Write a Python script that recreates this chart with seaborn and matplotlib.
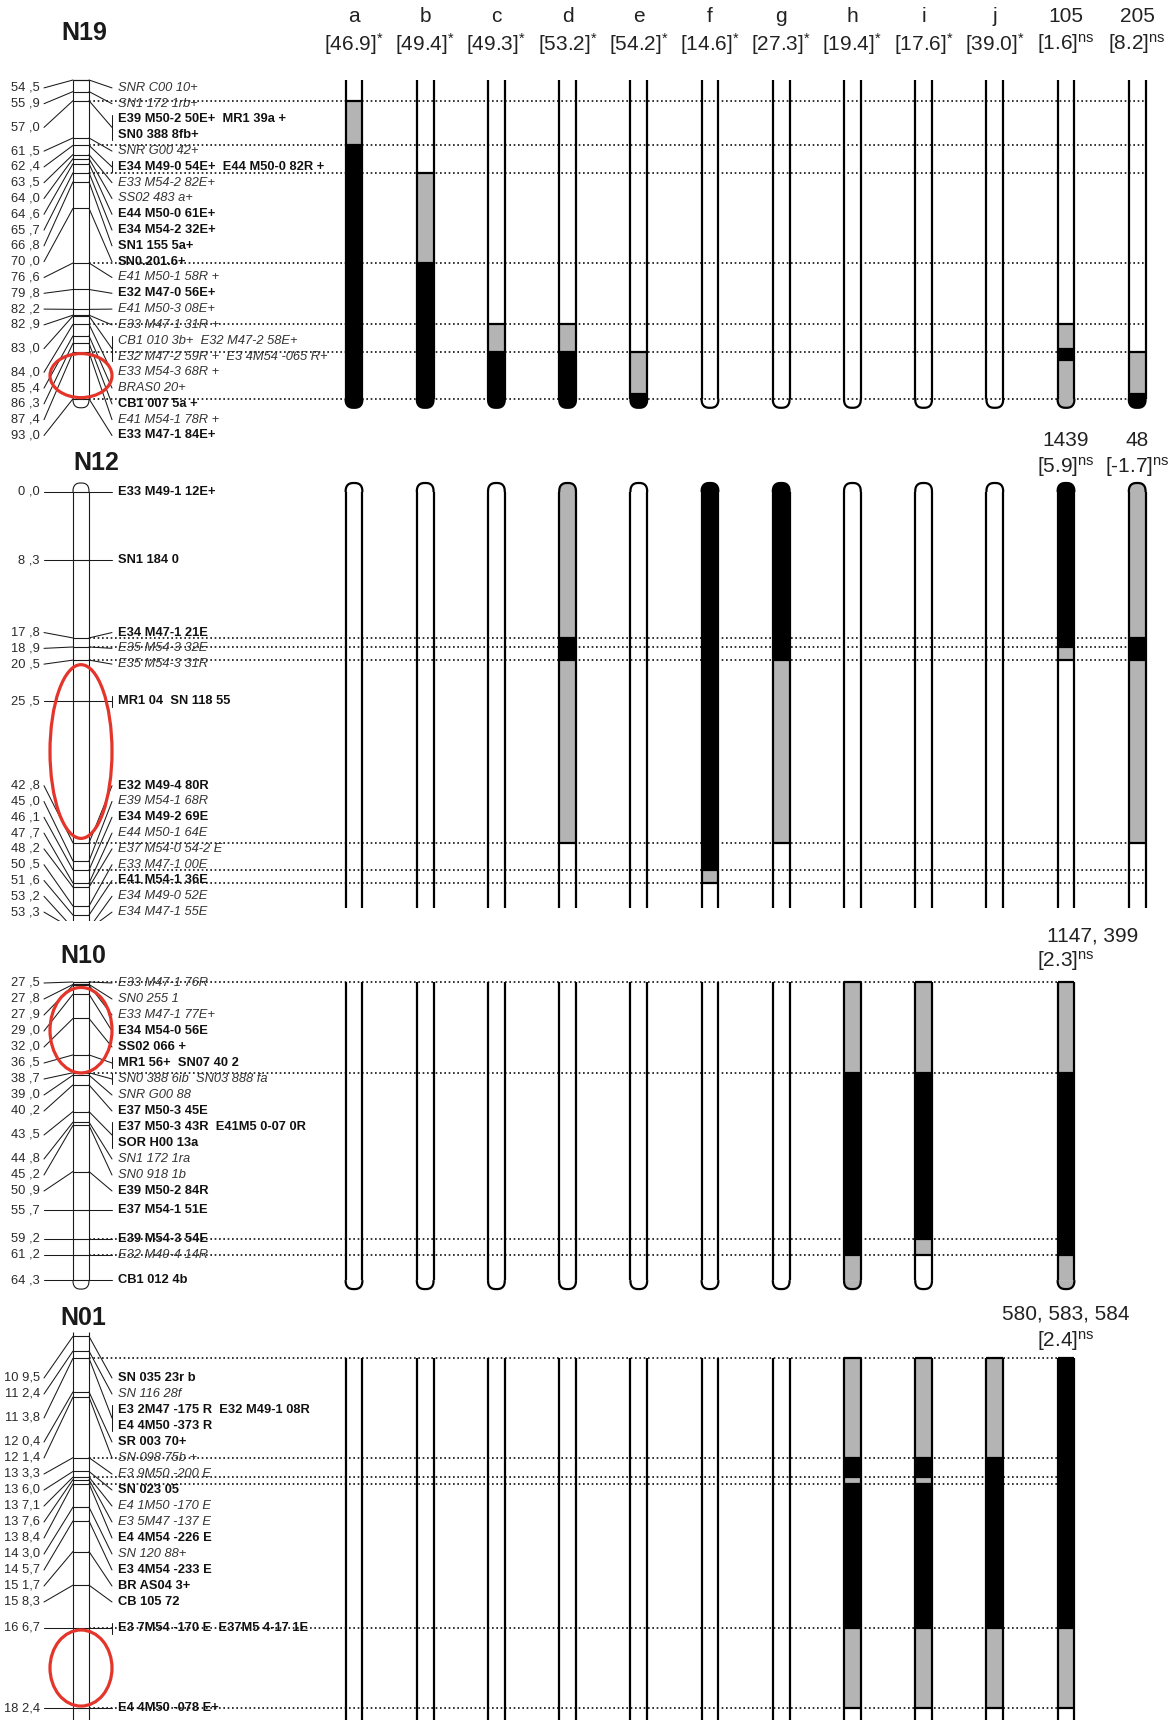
import numpy as np
import pandas as pd
import matplotlib
matplotlib.use("Agg")
import matplotlib.pyplot as plt
import seaborn as sns
from matplotlib import transforms
from matplotlib.patches import Ellipse, Polygon

# ------------------------------------------------------------------ data
trait_names = ["a", "b", "c", "d", "e", "f", "g", "h", "i", "j", "105", "205"]
trait_values = [46.9, 49.4, 49.3, 53.2, 54.2, 14.6, 27.3, 19.4, 17.6, 39.0, 1.6, 8.2]
trait_sig = ["*"] * 10 + ["ns", "ns"]

n12_extra_names = ["1439", "48"]
n12_extra_values = [5.9, -1.7]
n12_extra_sig = ["ns", "ns"]
n10_extra_names = ["1147, 399"]
n10_extra_values = [2.3]
n10_extra_sig = ["ns"]
n01_extra_names = ["580, 583, 584"]
n01_extra_values = [2.4]
n01_extra_sig = ["ns"]

# ---- N19
n19_cm = [54.5, 55.9, 57.0, 61.5, 62.4, 63.5, 64.0, 64.6, 65.7, 66.8, 70.0,
          76.6, 79.8, 82.2, 82.9, 83.0, 84.0, 85.4, 86.3, 87.4, 93.0]
n19_markers = ["SNR C00 10+", "SN1 172 1rb+", "E39 M50-2 50E+  MR1 39a +\nSN0 388 8fb+",
               "SNR G00 42+", "E34 M49-0 54E+  E44 M50-0 82R +", "E33 M54-2 82E+",
               "SS02 483 a+", "E44 M50-0 61E+", "E34 M54-2 32E+", "SN1 155 5a+",
               "SN0.201.6+", "E41 M50-1 58R +", "E32 M47-0 56E+", "E41 M50-3 08E+",
               "E33 M47-1 31R +", "CB1 010 3b+  E32 M47-2 58E+\nE32 M47-2 59R +  E3 4M54 -065 R+",
               "E33 M54-3 68R +", "BRAS0 20+", "CB1 007 5a +", "E41 M54-1 78R +",
               "E33 M47-1 84E+"]
n19_bold = [0, 0, 1, 0, 1, 0, 0, 1, 1, 1, 1, 0, 1, 0, 0, 0, 0, 0, 1, 0, 1]
n19_tick = [0, 0, 1, 0, 1, 0, 0, 0, 0, 0, 0, 0, 0, 0, 0, 1, 0, 0, 0, 0, 0]
n19_chrom = (54.5, 93.0)
n19_dotted = [57.0, 62.4, 65.7, 76.6, 84.0, 87.4, 93.0]
n19_highlight = (87.4, 93.0)
n19_bar_cols = list(range(12))
n19_bar_breaks = [[54.5, 57.0, 62.4], [54.5, 65.7, 76.6], [54.5, 84.0, 87.4], [54.5, 84.0, 87.4],
                  [54.5, 87.4, 92.4], [54.5], [54.5], [54.5], [54.5], [54.5],
                  [54.5, 84.0, 87.0, 88.3], [54.5, 87.4, 92.4]]
n19_bar_fills = [["w", "g", "k"], ["w", "g", "k"], ["w", "g", "k"], ["w", "g", "k"],
                 ["w", "g", "k"], ["w"], ["w"], ["w"], ["w"], ["w"],
                 ["w", "g", "k", "g"], ["w", "g", "k"]]
n19_bar_end = 93.0

# ---- N12
n12_cm = [0.0, 8.3, 17.8, 18.9, 20.5, 25.5, 42.8, 45.0, 46.1, 47.7, 48.2, 50.5, 51.6, 53.2, 53.3]
n12_markers = ["E33 M49-1 12E+", "SN1 184 0", "E34 M47-1 21E", "E35 M54-3 32E", "E35 M54-3 31R",
               "MR1 04  SN 118 55", "E32 M49-4 80R", "E39 M54-1 68R", "E34 M49-2 69E",
               "E44 M50-1 64E", "E37 M54-0 54-2 E", "E33 M47-1 00E", "E41 M54-1 36E",
               "E34 M49-0 52E", "E34 M47-1 55E"]
n12_bold = [1, 1, 1, 0, 0, 1, 1, 0, 1, 0, 0, 0, 1, 0, 0]
n12_tick = [0, 0, 0, 0, 0, 1, 0, 0, 0, 0, 0, 0, 0, 0, 0]
n12_chrom = (0.0, None)
n12_dotted = [17.8, 18.9, 20.5, 42.8, 46.1, 47.7]
n12_highlight = (20.5, 42.8)
n12_bar_cols = list(range(12))
n12_bar_breaks = [[0.0], [0.0], [0.0], [0.0, 17.8, 20.5, 42.8], [0.0], [0.0, 46.1, 47.7],
                  [0.0, 20.5, 42.8], [0.0], [0.0], [0.0], [0.0, 18.9, 20.5], [0.0, 17.8, 20.5, 42.8]]
n12_bar_fills = [["w"], ["w"], ["w"], ["g", "k", "g", "w"], ["w"], ["k", "g", "w"],
                 ["k", "g", "w"], ["w"], ["w"], ["w"], ["k", "g", "w"], ["g", "k", "g", "w"]]
n12_bar_end = 50.7

# ---- N10
n10_cm = [27.5, 27.8, 27.9, 29.0, 32.0, 36.5, 38.7, 39.0, 40.2, 43.5, 44.8, 45.2,
          50.9, 55.7, 59.2, 61.2, 64.3]
n10_markers = ["E33 M47-1 76R", "SN0 255 1", "E33 M47-1 77E+", "E34 M54-0 56E", "SS02 066 +",
               "MR1 56+  SN07 40 2", "SN0 388 6ib  SN03 888 fa", "SNR G00 88", "E37 M50-3 45E",
               "E37 M50-3 43R  E41M5 0-07 0R\nSOR H00 13a", "SN1 172 1ra", "SN0 918 1b",
               "E39 M50-2 84R", "E37 M54-1 51E", "E39 M54-3 54E", "E32 M49-4 14R", "CB1 012 4b"]
n10_bold = [0, 0, 0, 1, 1, 1, 0, 0, 1, 1, 0, 0, 1, 1, 1, 0, 1]
n10_tick = [0, 0, 0, 0, 0, 1, 1, 0, 0, 1, 0, 0, 0, 0, 0, 0, 0]
n10_chrom = (27.5, 64.3)
n10_dotted = [27.5, 38.7, 59.2, 61.2]
n10_highlight = (27.9, 39.0)
n10_bar_cols = [0, 1, 2, 3, 4, 5, 6, 7, 8, 10]
n10_bar_breaks = [[27.5]] * 7 + [[27.5, 38.7, 61.2], [27.5, 38.7, 59.2, 61.2], [27.5, 38.7, 61.2]]
n10_bar_fills = [["w"]] * 7 + [["g", "k", "g"], ["g", "k", "g", "w"], ["g", "k", "g"]]
n10_bar_end = 64.3

# ---- N01
n01_cm = [109.5, 112.4, 113.8, 120.4, 121.4, 133.3, 136.0, 137.1, 137.6, 138.4,
          143.0, 145.7, 151.7, 158.3, 166.7, 182.4]
n01_markers = ["SN 035 23r b", "SN 116 28f", "E3 2M47 -175 R  E32 M49-1 08R\nE4 4M50 -373 R",
               "SR 003 70+", "SN 098 75b +", "E3 9M50 -200 E", "SN 023 05", "E4 1M50 -170 E",
               "E3 5M47 -137 E", "E4 4M54 -226 E", "SN 120 88+", "E3 4M54 -233 E",
               "BR AS04 3+", "CB 105 72", "E3 7M54 -170 E  E37M5 4-17 1E", "E4 4M50 -078 E+"]
n01_bold = [1, 0, 1, 1, 0, 0, 1, 0, 0, 1, 0, 1, 1, 1, 1, 1]
n01_tick = [0, 0, 1, 0, 0, 0, 0, 0, 0, 0, 0, 0, 0, 0, 1, 0]
n01_chrom = (108.6, None)
n01_dotted = [113.8, 133.3, 137.1, 138.4, 166.7, 182.4]
n01_highlight = (166.7, 182.4)
n01_bar_cols = [0, 1, 2, 3, 4, 5, 6, 7, 8, 9, 10]
n01_bar_breaks = [[113.8]] * 7 + [[113.8, 133.3, 137.1, 138.4, 166.7, 182.4],
                                  [113.8, 133.3, 137.1, 138.4, 166.7, 182.4],
                                  [113.8, 133.3, 166.7, 182.4], [113.8, 166.7, 182.4]]
n01_bar_fills = [["w"]] * 7 + [["g", "k", "g", "k", "g", "w"], ["g", "k", "g", "k", "g", "w"],
                               ["g", "k", "g", "w"], ["k", "g", "w"]]
n01_bar_end = None

# ------------------------------------------------------------------ style
sns.set_theme(style="white")
plt.rcParams["font.family"] = ["Liberation Sans", "DejaVu Sans"]
plt.rcParams["mathtext.fontset"] = "custom"
plt.rcParams["mathtext.rm"] = "Liberation Sans"
plt.rcParams["mathtext.it"] = "Liberation Sans:italic"
plt.rcParams["mathtext.bf"] = "Liberation Sans:bold"

W, H = 1174, 1720
COL0_PX, COL_STEP_PX = 354.0, 71.2
BAR_W = 0.235
CHR_L, CHR_R = 73.0, 89.0
NUM_X, LEAD_L, LEAD_R, LABEL_X = 40.0, 44.0, 112.0, 118.0
FILL = {"w": None, "g": "#b4b4b4", "k": "#000000"}
RED = "#e4352b"
FS_LAB = 9.3
FS_HEAD = 15

fig = plt.figure(figsize=(W / 100, H / 100), dpi=100)
fig.patch.set_facecolor("white")


def cap_xy(cx, hw, y0, h, direction, n=2.6):
    t = np.linspace(0, np.pi, 60)
    c, s = np.cos(t), np.sin(t)
    return cx + hw * np.sign(c) * np.abs(c) ** (2 / n), y0 + direction * h * np.abs(s) ** (2 / n)


def spread(targets, heights, lo, hi):
    def place(idx):
        hc = sum(heights[i] for i in idx)
        off, vals = 0.0, []
        for i in idx:
            vals.append(targets[i] - off - heights[i] / 2)
            off += heights[i]
        top = min(max(float(np.mean(vals)), lo), hi - hc)
        return top, hc

    clusters = []
    for i in range(len(targets)):
        clusters.append([i])
        while len(clusters) > 1:
            t1, _ = place(clusters[-1])
            t0, h0 = place(clusters[-2])
            if t0 + h0 > t1 + 1e-6:
                last = clusters.pop()
                clusters[-1] = clusters[-1] + last
            else:
                break
    centers = [0.0] * len(targets)
    for c in clusters:
        top, _ = place(c)
        off = 0.0
        for i in c:
            centers[i] = top + off + heights[i] / 2
            off += heights[i]
    return centers


def fmt_cm(v):
    s = f"{v:.1f}".replace(".", ",")
    if v >= 100:
        return s[:2] + " " + s[2:]
    return s.replace(",", " ,")


def head_text(value, sig):
    return f"[{value:.1f}]" + r"$^{\mathrm{" + sig + "}}$"


panels = [
    dict(name="N19", title=(84, 33), band=(0, 446), ref=(54.5, 80.0), k=8.28,
         cm=n19_cm, markers=n19_markers, bold=n19_bold, tick=n19_tick, chrom=n19_chrom,
         ctop="flat", cbot="round", dotted=n19_dotted, hl=n19_highlight,
         cols=n19_bar_cols, breaks=n19_bar_breaks, fills=n19_bar_fills, bend=n19_bar_end,
         btop="open", bbot="round", lab=(80, 446), pitch=15.8),
    dict(name="N12", title=(96, 463), band=(446, 921), ref=(0.0, 492.0), k=8.2,
         cm=n12_cm, markers=n12_markers, bold=n12_bold, tick=n12_tick, chrom=n12_chrom,
         ctop="round", cbot="open", dotted=n12_dotted, hl=n12_highlight,
         cols=n12_bar_cols, breaks=n12_bar_breaks, fills=n12_bar_fills, bend=n12_bar_end,
         btop="round", bbot="open", lab=(484, 920), pitch=15.8),
    dict(name="N10", title=(83, 956), band=(921, 1296), ref=(27.5, 982.0), k=8.1,
         cm=n10_cm, markers=n10_markers, bold=n10_bold, tick=n10_tick, chrom=n10_chrom,
         ctop="flat", cbot="round", dotted=n10_dotted, hl=n10_highlight,
         cols=n10_bar_cols, breaks=n10_bar_breaks, fills=n10_bar_fills, bend=n10_bar_end,
         btop="flat", bbot="round", lab=(975, 1296), pitch=16.0),
    dict(name="N01", title=(83, 1318), band=(1296, 1720), ref=(166.7, 1628.0), k=5.1,
         cm=n01_cm, markers=n01_markers, bold=n01_bold, tick=n01_tick, chrom=n01_chrom,
         ctop="open", cbot="open", dotted=n01_dotted, hl=n01_highlight,
         cols=n01_bar_cols, breaks=n01_bar_breaks, fills=n01_bar_fills, bend=n01_bar_end,
         btop="flat", bbot="open", lab=(1370, 1725), pitch=16.0),
]

for P in panels:
    top_px, bot_px = P["band"]
    ref_cm, ref_px = P["ref"]
    k = P["k"]

    def px2cm(p, ref_cm=ref_cm, ref_px=ref_px, k=k):
        return ref_cm + (p - ref_px) / k

    ax = fig.add_axes([0, 1 - bot_px / H, 1, (bot_px - top_px) / H])
    ax.set_xlim(-COL0_PX / COL_STEP_PX, (W - COL0_PX) / COL_STEP_PX)
    ax.set_ylim(px2cm(bot_px), px2cm(top_px))
    ax.axis("off")
    ax.patch.set_alpha(0)
    axis_end = px2cm(bot_px) + 5
    tL = transforms.blended_transform_factory(fig.transFigure, ax.transData)
    cap = 9.0 / k

    # ---- chromosome
    c0, c1 = P["chrom"]
    c1 = axis_end if c1 is None else c1
    xl, xr = CHR_L / W, CHR_R / W
    xm, hw = (xl + xr) / 2, (xr - xl) / 2
    ck = dict(transform=tL, color="#1a1a1a", lw=0.8, zorder=3, solid_capstyle="butt")
    ax.plot([xl, xl], [c0, c1], **ck)
    ax.plot([xr, xr], [c0, c1], **ck)
    if P["ctop"] == "flat":
        ax.plot([xl, xr], [c0, c0], **ck)
    elif P["ctop"] == "round":
        x, y = cap_xy(xm, hw, c0, cap, -1)
        ax.plot(x, y, **ck)
    if P["cbot"] == "round":
        x, y = cap_xy(xm, hw, c1, cap, 1)
        ax.plot(x, y, **ck)
    for c in P["cm"]:
        ax.plot([xl, xr], [c, c], **ck)

    # ---- highlight ellipse
    h0, h1 = P["hl"]
    ax.add_patch(Ellipse(((CHR_L + CHR_R) / 2 / W, (h0 + h1) / 2), 62 / W, (h1 - h0) * 0.95,
                         transform=tL, fill=False, edgecolor=RED, lw=2.3, zorder=6))

    # ---- labels
    lines = [m.split("\n") for m in P["markers"]]
    heights = [len(l) * P["pitch"] for l in lines]
    targets = [ref_px + (c - ref_cm) * k for c in P["cm"]]
    centers = spread(targets, heights, P["lab"][0], P["lab"][1])
    lk = dict(transform=tL, color="#1a1a1a", lw=0.75, zorder=3)
    for c, ls, yc, b, tk in zip(P["cm"], lines, centers, P["bold"], P["tick"]):
        ycm = px2cm(yc)
        ax.text(NUM_X / W, ycm, fmt_cm(c), transform=tL, ha="right", va="center",
                fontsize=FS_LAB, color="#2a2a2a", clip_on=True)
        ax.plot([LEAD_L / W, CHR_L / W], [ycm, c], **lk)
        ax.plot([CHR_R / W, LEAD_R / W], [c, ycm], **lk)
        n = len(ls)
        if n > 1:
            ax.plot([LEAD_R / W] * 2, [px2cm(yc - n * P["pitch"] / 2 + 3),
                                       px2cm(yc + n * P["pitch"] / 2 - 3)], **lk)
        elif tk:
            ax.plot([LEAD_R / W] * 2, [px2cm(yc - 5.5), px2cm(yc + 5.5)], **lk)
        for j, line in enumerate(ls):
            ly = yc + (j - (n - 1) / 2) * P["pitch"]
            ax.text(LABEL_X / W, px2cm(ly), line, transform=tL, ha="left", va="center",
                    fontsize=FS_LAB, fontweight="bold" if b else "normal",
                    fontstyle="normal" if b else "italic",
                    color="#111111" if b else "#333333", clip_on=True, zorder=4)

    # ---- dotted connection lines
    last_col = max(P["cols"])
    x_start = (CHR_R - COL0_PX) / COL_STEP_PX
    for d in P["dotted"]:
        ax.plot([x_start, last_col + BAR_W / 2], [d, d], color="#111111", lw=1.2,
                linestyle=(0, (1, 1.6)), zorder=1.5)

    # ---- bars (segments table)
    rows = []
    bend = axis_end if P["bend"] is None else P["bend"]
    for col, brk, fl in zip(P["cols"], P["breaks"], P["fills"]):
        ends = brk[1:] + [bend]
        for s, e, f in zip(brk, ends, fl):
            rows.append(dict(col=col, start=s, end=e, fill=f))
    seg = pd.DataFrame(rows)
    filled = seg[seg["fill"] != "w"]
    ax.bar(filled["col"], filled["end"] - filled["start"], bottom=filled["start"], width=BAR_W,
           color=[FILL[f] for f in filled["fill"]], linewidth=0, zorder=2)

    bk = dict(color="#000000", lw=1.6, zorder=3, solid_capstyle="butt")
    for col, brk, fl in zip(P["cols"], P["breaks"], P["fills"]):
        x0, x1 = col - BAR_W / 2, col + BAR_W / 2
        ax.plot([x0, x0], [brk[0], bend], **bk)
        ax.plot([x1, x1], [brk[0], bend], **bk)
        for bv, fa, fb in zip(brk[1:], fl[:-1], fl[1:]):
            if fa != fb:
                ax.plot([x0, x1], [bv, bv], **bk)
        if P["btop"] == "round":
            x, y = cap_xy(col, BAR_W / 2, brk[0], cap, -1)
            if FILL[fl[0]]:
                ax.add_patch(Polygon(np.column_stack([x, y]), closed=True,
                                     facecolor=FILL[fl[0]], edgecolor="none", zorder=2))
            ax.plot(x, y, **bk)
        elif P["btop"] == "flat" and fl[0] != "w":
            ax.plot([x0, x1], [brk[0], brk[0]], **bk)
        if P["bbot"] == "round":
            x, y = cap_xy(col, BAR_W / 2, bend, cap, 1)
            if FILL[fl[-1]]:
                ax.add_patch(Polygon(np.column_stack([x, y]), closed=True,
                                     facecolor=FILL[fl[-1]], edgecolor="none", zorder=2))
            ax.plot(x, y, **bk)

    # ---- title
    fig.text(P["title"][0] / W, 1 - P["title"][1] / H, P["name"], ha="center", va="center",
             fontsize=18, fontweight="bold", color="#1a1a1a")
    P["ax"] = ax

# ---- column headers
axA = panels[0]["ax"]
tH = transforms.blended_transform_factory(axA.transData, fig.transFigure)
for i, (nm, v, sg) in enumerate(zip(trait_names, trait_values, trait_sig)):
    axA.text(i, 1 - 17 / H, nm, transform=tH, ha="center", va="center", fontsize=FS_HEAD,
             color="#222222")
    axA.text(i, 1 - 44 / H, head_text(v, sg), transform=tH, ha="center", va="center",
             fontsize=FS_HEAD, color="#222222")

extras = [(panels[1], n12_extra_names, n12_extra_values, n12_extra_sig, [10, 11], 441, 467, 0.0),
          (panels[2], n10_extra_names, n10_extra_values, n10_extra_sig, [10], 936, 961, 0.37),
          (panels[3], n01_extra_names, n01_extra_values, n01_extra_sig, [10], 1314, 1341, 0.0)]
for P, names, vals, sigs, cols, y1, y2, dx in extras:
    tH = transforms.blended_transform_factory(P["ax"].transData, fig.transFigure)
    for nm, v, sg, c in zip(names, vals, sigs, cols):
        P["ax"].text(c + dx, 1 - y1 / H, nm, transform=tH, ha="center", va="center",
                     fontsize=FS_HEAD, color="#222222", clip_on=False)
        P["ax"].text(c, 1 - y2 / H, head_text(v, sg), transform=tH, ha="center", va="center",
                     fontsize=FS_HEAD, color="#222222", clip_on=False)

fig.savefig("out.png", dpi=100, facecolor="white")
